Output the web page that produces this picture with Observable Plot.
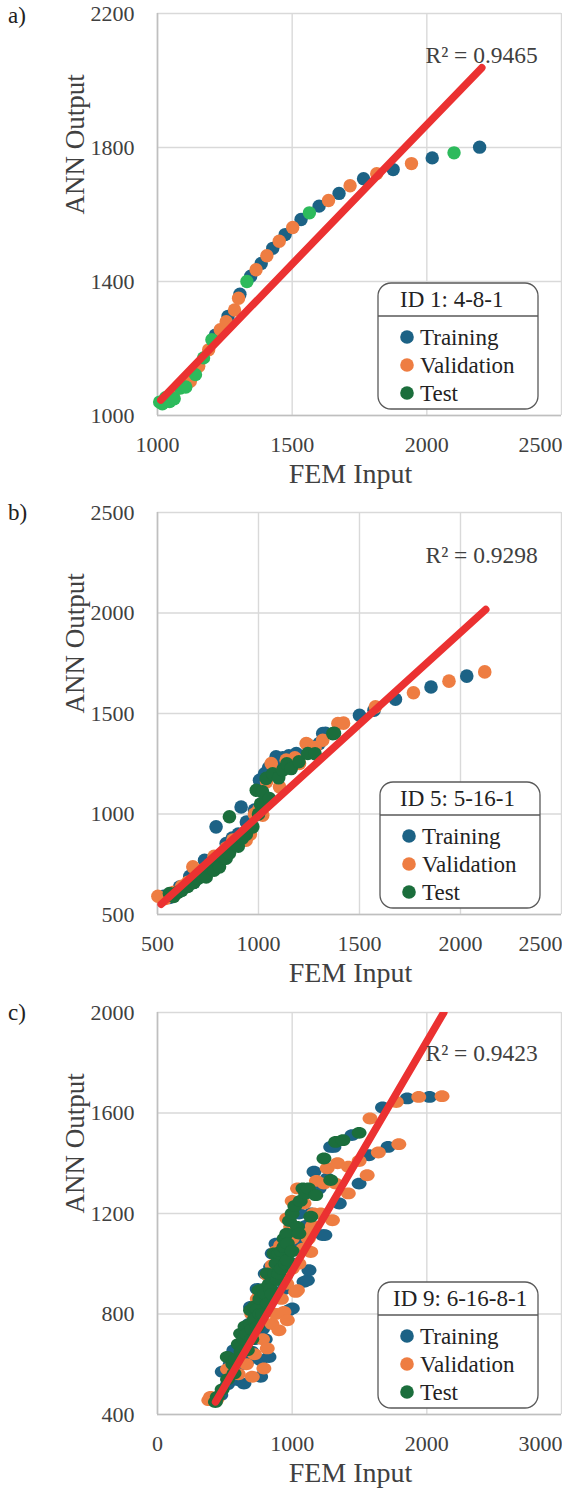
<!DOCTYPE html>
<html>
<head>
<meta charset="utf-8">
<script src="https://cdn.jsdelivr.net/npm/d3@7"></script>
<script src="https://cdn.jsdelivr.net/npm/@observablehq/plot@0.6"></script>
<style>
  html, body { margin: 0; padding: 0; background: #fff; overflow: hidden; }
  #wrap { position: relative; width: 562px; height: 1490px; font-family: 'Liberation Serif', 'Times New Roman', serif; }
  .panel { position: absolute; left: 0; }
  #overlay { position: absolute; left: 0; top: 0; pointer-events: none; }
  svg text { font-family: 'Liberation Serif', 'Times New Roman', serif; }
</style>
</head>
<body>
<div id="wrap"></div>
<script>
// ---------- Panel a) ID 1: 4-8-1 ----------
const aXTicks = [1000, 1500, 2000, 2500];
const aYTicks = [1000, 1400, 1800, 2200];
const aTraining = [[1022,1040],[1215,1240],[1262,1296],[1306,1362],[1346,1416],[1385,1454],[1428,1499],[1474,1540],[1533,1585],[1600,1625],[1674,1663],[1765,1707],[1875,1734],[2020,1769],[2196,1801]];
const aValidation = [[1060,1068],[1122,1102],[1153,1147],[1190,1196],[1233,1256],[1255,1280],[1286,1315],[1301,1350],[1366,1435],[1406,1477],[1452,1520],[1502,1561],[1635,1642],[1715,1686],[1814,1722],[1943,1752]];
const aTest = [[1008,1040],[1018,1035],[1030,1053],[1045,1042],[1062,1050],[1085,1082],[1105,1085],[1141,1122],[1171,1172],[1202,1226],[1332,1400],[1564,1605],[2101,1784]];
const aTrend = [[1012,1046],[2204,2038]];
const aR2 = "R² = 0.9465";
const aTitle = "ID 1: 4-8-1";

// ---------- Panel b) ID 5: 5-16-1 ----------
const bXTicks = [500, 1000, 1500, 2000, 2500];
const bYTicks = [500, 1000, 1500, 2000, 2500];
const bTraining = [[530,590],[560,585],[580,600],[609,637],[640,640],[660,690],[680,660],[700,700],[733,770],[750,720],[780,760],[790,936],[820,790],[840,853],[860,830],[870,880],[900,900],[914,1035],[940,960],[960,960],[980,1020],[1005,1168],[1030,1200],[1050,1230],[1060,1220],[1087,1284],[1100,1260],[1120,1280],[1150,1290],[1187,1301],[1200,1290],[1260,1310],[1300,1350],[1318,1400],[1332,1402],[1500,1491],[1572,1516],[1678,1571],[1854,1632],[2031,1686]];
const bValidation = [[502,591],[540,580],[580,610],[620,640],[650,660],[675,737],[700,700],[720,720],[760,750],[780,790],[800,780],[840,830],[873,870],[900,860],[939,870],[960,900],[980,1000],[1000,1020],[1021,994],[1040,1160],[1063,1251],[1080,1200],[1104,1135],[1137,1268],[1160,1230],[1180,1280],[1203,1251],[1236,1351],[1243,1347],[1280,1330],[1318,1367],[1393,1450],[1421,1452],[1579,1533],[1767,1603],[1943,1661],[2120,1707]];
const bTest = [[559,604],[580,590],[600,610],[620,620],[650,640],[680,660],[700,680],[720,690],[741,687],[760,730],[780,720],[800,760],[807,737],[830,780],[840,780],[856,805],[856,986],[880,850],[900,840],[920,880],[940,900],[972,936],[989,1118],[1000,1000],[1010,1050],[1020,1110],[1038,1177],[1054,1077],[1070,1200],[1100,1180],[1120,1218],[1140,1250],[1162,1226],[1200,1260],[1244,1301],[1280,1300],[1368,1400],[1376,1402]];
const bTrend = [[518,551],[2125,2017]];
const bR2 = "R² = 0.9298";
const bTitle = "ID 5: 5-16-1";

// ---------- Panel c) ID 9: 6-16-8-1 ----------
const cXTicks = [0, 1000, 2000, 3000];
const cYTicks = [400, 800, 1200, 1600, 2000];
const cTraining = [[470,478],[481,570],[520,520],[540,600],[567,656],[593,537],[620,600],[642,523],[680,620],[680,760],[691,828],[700,650],[720,700],[740,900],[766,550],[766,616],[780,740],[800,700],[800,960],[820,820],[828,629],[840,987],[852,1041],[860,860],[880,1080],[900,880],[940,900],[950,1100],[976,815],[1001,822],[1020,1000],[1051,1200],[1060,1080],[1088,928],[1100,1150],[1113,934],[1125,974],[1140,1200],[1162,1366],[1200,1300],[1225,1114],[1243,1114],[1260,1340],[1286,1465],[1310,1465],[1350,1240],[1444,1512],[1497,1319],[1570,1432],[1671,1622],[1712,1465],[1854,1658],[2020,1664]];
const cValidation = [[381,457],[394,470],[440,460],[520,580],[560,570],[600,560],[650,700],[660,600],[700,800],[704,550],[720,640],[741,860],[760,880],[780,700],[790,583],[815,663],[815,955],[850,760],[852,994],[860,940],[880,800],[880,1050],[902,735],[915,1074],[920,860],[939,808],[950,950],[960,920],[960,1180],[964,775],[989,1147],[1000,980],[1000,1100],[1000,1250],[1026,888],[1039,895],[1040,1300],[1050,1000],[1080,1060],[1088,1240],[1100,1120],[1120,1100],[1138,1047],[1150,1150],[1160,1200],[1180,1330],[1212,1200],[1236,1319],[1260,1380],[1299,1173],[1323,1319],[1337,1400],[1417,1280],[1417,1386],[1497,1409],[1557,1352],[1578,1578],[1640,1443],[1773,1644],[1792,1476],[1940,1664],[2113,1667]];
const cTest = [[430,450],[444,470],[480,500],[518,629],[520,540],[560,600],[568,563],[580,620],[600,680],[617,722],[620,650],[640,700],[650,750],[660,720],[667,656],[690,760],[691,815],[700,700],[700,740],[720,780],[720,830],[740,820],[741,749],[753,895],[760,800],[760,860],[780,800],[790,900],[800,880],[815,842],[815,961],[830,920],[840,900],[850,880],[865,1041],[870,960],[880,1000],[890,935],[900,960],[900,1040],[920,980],[920,1050],[939,1067],[940,1100],[950,1000],[960,1120],[964,1014],[964,1081],[980,1170],[1000,1050],[1000,1200],[1020,1230],[1039,1147],[1050,1120],[1060,1250],[1080,1300],[1100,1280],[1120,1300],[1138,1187],[1175,1273],[1236,1419],[1286,1333],[1323,1485],[1377,1492],[1497,1521]];
const cTrend = [[431,450],[2126,2000]];
const cR2 = "R² = 0.9423";
const cTitle = "ID 9: 6-16-8-1";

const seriesNames = ["Training", "Validation", "Test"];
const xTitle = "FEM Input";
const yTitle = "ANN Output";

// ---------- styling ----------
const COL = { train: "#1c6285", valid: "#ee7d42", test: "#1b6e3c", testLight: "#2dba5c", trend: "#eb3131" };
const FONT = "'Liberation Serif', 'Times New Roman', serif";
const TXT = "#404040";

const ellipse = {
  draw(ctx, size) {
    const r = Math.sqrt(size / Math.PI);
    const rx = r * 1.13, ry = r * 0.9, k = 0.5523;
    ctx.moveTo(rx, 0);
    ctx.bezierCurveTo(rx, k * ry, k * rx, ry, 0, ry);
    ctx.bezierCurveTo(-k * rx, ry, -rx, k * ry, -rx, 0);
    ctx.bezierCurveTo(-rx, -k * ry, -k * rx, -ry, 0, -ry);
    ctx.bezierCurveTo(k * rx, -ry, rx, -k * ry, rx, 0);
    ctx.closePath();
  }
};

function panel(p) {
  const xLast = p.xTicks[p.xTicks.length - 1];
  const plotH = 402;
  const px = d => d[0], py = d => d[1];
  const fmt = d => String(d);
  const axisText = { tickSize: 0, fontSize: 22, fill: TXT, fontFamily: FONT, label: null, tickFormat: fmt };
  const dotOpts = (fill) => ({ x: px, y: py, r: p.r, fill, symbol: p.symbol });
  return Plot.plot({
    width: 562,
    height: p.height,
    marginLeft: 157,
    marginRight: 1,
    marginTop: p.mt,
    marginBottom: p.height - p.mt - plotH,
    x: { domain: [p.xTicks[0], xLast] },
    y: { domain: [p.yTicks[0], p.yTicks[p.yTicks.length - 1]] },
    style: { fontFamily: FONT, background: "transparent", overflow: "visible", color: TXT },
    marks: [
      Plot.gridX(p.xTicks, { stroke: "#d9d9d9", strokeOpacity: 1, strokeWidth: 1.4 }),
      Plot.gridY(p.yTicks, { stroke: "#d9d9d9", strokeOpacity: 1, strokeWidth: 1.4 }),
      Plot.ruleX([p.xTicks[0]], { stroke: "#bfbfbf", strokeWidth: 1.6 }),
      Plot.ruleY([p.yTicks[0]], { stroke: "#bfbfbf", strokeWidth: 1.6 }),
      Plot.axisY(p.yTicks, { ...axisText, tickPadding: 23 }),
      Plot.axisX(p.xTicks.slice(0, -1), { ...axisText, tickPadding: 21 }),
      Plot.axisX([xLast], { ...axisText, tickPadding: 21, textAnchor: "end", dx: 1 }),
      Plot.dot(p.train, dotOpts(COL.train)),
      Plot.dot(p.valid, dotOpts(COL.valid)),
      Plot.dot(p.test, dotOpts(p.testColor)),
      Plot.line(p.trend, { x: px, y: py, stroke: COL.trend, strokeWidth: 7.5, strokeLinecap: "round", clip: true }),
      Plot.text([p.r2], { frameAnchor: "top-left", dx: 268, dy: p.r2dy, text: d => d, fontSize: 23.5, fill: TXT, fontFamily: FONT, textAnchor: "start", lineAnchor: "bottom" }),
      Plot.text([xTitle], { frameAnchor: "bottom", dx: -9, dy: 67, text: d => d, fontSize: 28, fill: TXT, fontFamily: FONT, lineAnchor: "bottom" }),
      Plot.text([yTitle], { frameAnchor: "left", dx: -74, rotate: -90, text: d => d, fontSize: 27, fill: TXT, fontFamily: FONT, lineAnchor: "bottom" })
    ]
  });
}

const panels = [
  { top: 0, height: 500, mt: 13, xTicks: aXTicks, yTicks: aYTicks, train: aTraining, valid: aValidation, test: aTest, trend: aTrend, r2: aR2, r2dy: 49, testColor: COL.testLight, r: 6.7, symbol: "circle" },
  { top: 500, height: 500, mt: 12, xTicks: bXTicks, yTicks: bYTicks, train: bTraining, valid: bValidation, test: bTest, trend: bTrend, r2: bR2, r2dy: 50, testColor: COL.test, r: 6.8, symbol: "circle" },
  { top: 1000, height: 490, mt: 12, xTicks: cXTicks, yTicks: cYTicks, train: cTraining, valid: cValidation, test: cTest, trend: cTrend, r2: cR2, r2dy: 48, testColor: COL.test, r: 6.6, symbol: ellipse }
];

const wrap = document.getElementById("wrap");
for (const p of panels) {
  const div = document.createElement("div");
  div.className = "panel";
  div.style.top = p.top + "px";
  div.appendChild(panel(p));
  wrap.appendChild(div);
}

// ---------- overlay: panel letters and legends ----------
const svg = d3.select(wrap).append("svg").attr("id", "overlay")
  .attr("width", 562).attr("height", 1490)
  .style("font-family", FONT);

const letters = [["a)", 23], ["b)", 520], ["c)", 1020]];
for (const [t, y] of letters) {
  svg.append("text").attr("x", 8).attr("y", y).attr("font-size", 23).attr("fill", "#222").text(t);
}

const legends = [
  { left: 378, top: 283, title: aTitle, tx: 400 },
  { left: 380, top: 782, title: bTitle, tx: 400 },
  { left: 378, top: 1282, title: cTitle, tx: 393 }
];
const legendColors = [COL.train, COL.valid, COL.test];
for (const L of legends) {
  const g = svg.append("g");
  g.append("rect").attr("x", L.left).attr("y", L.top).attr("width", 160).attr("height", 126)
    .attr("rx", 13).attr("fill", "#fff").attr("stroke", "#595959").attr("stroke-width", 1.3);
  g.append("line").attr("x1", L.left).attr("x2", L.left + 160).attr("y1", L.top + 33).attr("y2", L.top + 33)
    .attr("stroke", "#595959").attr("stroke-width", 1.3);
  g.append("text").attr("x", L.tx).attr("y", L.top + 24).attr("font-size", 23).attr("fill", "#222").text(L.title);
  seriesNames.forEach((name, i) => {
    const cy = L.top + 54 + 28 * i;
    g.append("circle").attr("cx", L.left + 29).attr("cy", cy).attr("r", 6.8).attr("fill", legendColors[i]);
    g.append("text").attr("x", L.left + 42).attr("y", cy + 8).attr("font-size", 23).attr("fill", "#222").text(name);
  });
}
</script>
</body>
</html>
